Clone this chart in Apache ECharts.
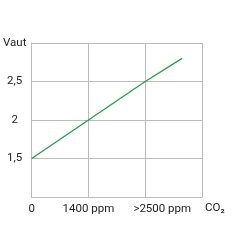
<!DOCTYPE html>
<html lang="en">

<head>
    <meta charset="UTF-8">
    <title>Vaut CO2</title>
    <script src="https://cdn.jsdelivr.net/npm/echarts@6/dist/echarts.min.js"></script>
    <style>
        html, body { margin: 0; padding: 0; background: #fff; }
    </style>
</head>

<body>
    <div id="chart" style="width: 250px; height: 250px;"></div>
    <script>
        // x positions are grid steps: 0, 1400 ppm, >2500 ppm
        const xLabels = ['0', '1400 ppm', '>2500 ppm', ''];
        const lineX = [0, 1, 2, 2.65];
        const lineY = [1.5, 2, 2.5, 2.8];

        const yLabel = v => {
            if (v === 3) return 'Vaut';
            if (v === 1) return '';
            return String(v).replace('.', ',');
        };

        const chart = echarts.init(document.getElementById('chart'));
        chart.setOption({
            animation: false,
            grid: { left: 29, top: 43, width: 173, height: 154, containLabel: false },
            xAxis: {
                type: 'value',
                min: 0, max: 3, interval: 1,
                name: 'CO₂',
                nameLocation: 'end',
                nameGap: 3,
                nameTextStyle: {
                    color: '#222', fontSize: 11.5, fontFamily: 'Roboto',
                    verticalAlign: 'top', padding: [5, 0, 0, 0]
                },
                axisLine: { lineStyle: { color: '#bbb', width: 1 } },
                axisTick: { show: false },
                axisLabel: {
                    color: '#222', fontSize: 11.5, fontFamily: 'Roboto', margin: 6,
                    // the >2500 label sits right of its grid line
                    formatter: v => v === 2 ? '{off|' + xLabels[v] + '}' : xLabels[v],
                    rich: {
                        off: { color: '#222', fontSize: 11.5, fontFamily: 'Roboto', padding: [0, 0, 0, 34] }
                    }
                },
                splitLine: { lineStyle: { color: '#bbb', width: 1 } }
            },
            yAxis: {
                type: 'value',
                min: 1, max: 3, interval: 0.5,
                axisLine: { show: true, lineStyle: { color: '#bbb', width: 1 } },
                axisTick: { show: false },
                axisLabel: {
                    color: '#222', fontSize: 11.5, fontFamily: 'Roboto',
                    align: 'center', margin: 17,
                    formatter: yLabel
                },
                splitLine: { lineStyle: { color: '#bbb', width: 1 } }
            },
            series: [{
                type: 'line',
                data: lineX.map((x, i) => [x, lineY[i]]),
                showSymbol: false,
                lineStyle: { color: '#2a9a4a', width: 1.3 }
            }]
        });
    </script>
</body>

</html>
